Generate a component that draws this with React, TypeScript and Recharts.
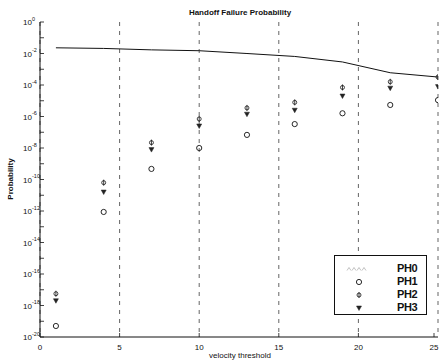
import React from "react";
import { ComposedChart, Scatter, Line, XAxis, YAxis, CartesianGrid, Legend } from "recharts";

// velocity threshold values where each scheme was evaluated
const velocity = [1, 4, 7, 10, 13, 16, 19, 22, 25];
const ph0 = [2.3e-2, 2.1e-2, 1.7e-2, 1.5e-2, 1.0e-2, 6.5e-3, 2.9e-3, 6.0e-4, 3.2e-4];
const ph1 = [5e-20, 8.7e-13, 4.7e-10, 1e-8, 6.8e-8, 3.3e-7, 1.6e-6, 5.4e-6, 1.1e-5];
const ph2 = [5.6e-18, 6.3e-11, 2.2e-8, 7e-7, 3.5e-6, 7.9e-6, 7e-5, 1.6e-4, 3.2e-4];
const ph3 = [2e-18, 1.6e-11, 7.9e-9, 2.5e-7, 1.4e-6, 2.5e-6, 2e-5, 6.3e-5, 7.9e-5];

const seriesNames = ["PH0", "PH1", "PH2", "PH3"];
const xTicks = [0, 5, 10, 15, 20, 25];
const yTicks = [
  1e-20, 1e-19, 1e-18, 1e-17, 1e-16, 1e-15, 1e-14, 1e-13, 1e-12, 1e-11, 1e-10,
  1e-9, 1e-8, 1e-7, 1e-6, 1e-5, 1e-4, 1e-3, 1e-2, 1e-1, 1,
];

const toPoints = (vals: number[]) => velocity.map((x, i) => ({ x, y: vals[i] }));

const INK = "#111";
const FONT = "'Liberation Sans', Arial, sans-serif";
const TL = 4; // inward tick length

function LeftTick(props: any) {
  const { x, y, payload } = props;
  const e = Math.round(Math.log10(payload.value));
  return (
    <g>
      <line x1={x + 8} x2={x + 8 + TL} y1={y} y2={y} stroke={INK} strokeWidth={0.8} />
      {e % 2 === 0 && (
        <g fontFamily={FONT} fill={INK}>
          <text x={x} y={y} dy={3} textAnchor="end" fontSize={8}>10</text>
          <text x={x} y={y} dy={-1.5} textAnchor="start" fontSize={5.5}>{e}</text>
        </g>
      )}
    </g>
  );
}

function RightTick(props: any) {
  const { x, y } = props;
  return <line x1={x} x2={x - TL} y1={y} y2={y} stroke={INK} strokeWidth={0.8} />;
}

function BottomTick(props: any) {
  const { x, y, payload } = props;
  return (
    <g>
      <line x1={x} x2={x} y1={y} y2={y - TL} stroke={INK} strokeWidth={0.8} />
      <text x={x} y={y + 13} textAnchor="middle" fontSize={8} fontFamily={FONT} fill={INK}>
        {payload.value}
      </text>
    </g>
  );
}

function TopTick(props: any) {
  const { x, y } = props;
  return <line x1={x} x2={x} y1={y} y2={y + TL} stroke={INK} strokeWidth={0.8} />;
}

function Ph0Mark({ cx, cy }: any) {
  return <path d={`M${cx - 2},${cy + 1.5}L${cx},${cy - 1.5}L${cx + 2},${cy + 1.5}`} fill="none" stroke="#999" strokeWidth={0.6} />;
}
function Ph1Mark({ cx, cy }: any) {
  return <circle cx={cx} cy={cy} r={2.6} fill="none" stroke={INK} strokeWidth={0.9} />;
}
function Ph2Mark({ cx, cy }: any) {
  return (
    <g fill="none" stroke={INK} strokeWidth={0.8}>
      <circle cx={cx} cy={cy} r={2} />
      <line x1={cx} x2={cx} y1={cy - 3} y2={cy + 3} />
    </g>
  );
}
function Ph3Mark({ cx, cy }: any) {
  return <path d={`M${cx - 2.5},${cy - 2}L${cx + 2.5},${cy - 2}L${cx},${cy + 2.5}Z`} fill="#222" stroke="#222" strokeWidth={0.5} />;
}

const legendMarks = [Ph0Mark, Ph1Mark, Ph2Mark, Ph3Mark];

function renderLegend() {
  return (
    <div
      style={{
        width: 93,
        height: 60,
        border: `1px solid ${INK}`,
        background: "#fff",
        boxSizing: "border-box",
        paddingTop: 6,
        fontFamily: FONT,
      }}
    >
      {seriesNames.map((name, i) => {
        const Mark = legendMarks[i];
        return (
          <div key={name} style={{ display: "flex", alignItems: "center", height: 13 }}>
            <svg width={60} height={12} style={{ display: "block" }}>
              {i === 0 ? (
                [14, 19, 24, 29].map((cx) => <Ph0Mark key={cx} cx={cx} cy={6} />)
              ) : (
                <Mark cx={24} cy={6} />
              )}
            </svg>
            <span style={{ fontSize: 11, fontWeight: "bold", color: INK, letterSpacing: -0.4, marginLeft: 2, lineHeight: "13px" }}>
              {name}
            </span>
          </div>
        );
      })}
    </div>
  );
}

export default function App() {
  return (
    <div style={{ position: "absolute", left: 0, top: 0, width: 442, height: 361, background: "#fff", fontFamily: FONT }}>
      <ComposedChart width={442} height={361} margin={{ top: 22, right: 4, bottom: 0, left: 0 }}>
        <CartesianGrid
          xAxisId="b"
          yAxisId="l"
          horizontal={false}
          stroke="#222"
          strokeWidth={0.7}
          strokeDasharray="4 5"
        />
        <XAxis
          xAxisId="b"
          type="number"
          dataKey="x"
          domain={[0, 25]}
          ticks={xTicks}
          height={24}
          tickSize={0}
          tickMargin={0}
          tickLine={false}
          axisLine={{ stroke: INK, strokeWidth: 1 }}
          tick={(p: any) => <BottomTick {...p} />}
          allowDataOverflow
        />
        <XAxis
          xAxisId="t"
          orientation="top"
          type="number"
          domain={[0, 25]}
          ticks={xTicks}
          height={0}
          tickSize={0}
          tickMargin={0}
          tickLine={false}
          axisLine={{ stroke: INK, strokeWidth: 1 }}
          tick={(p: any) => <TopTick {...p} />}
          allowDataOverflow
        />
        <YAxis
          yAxisId="l"
          type="number"
          scale="log"
          domain={[1e-20, 1]}
          ticks={yTicks}
          width={40}
          tickSize={0}
          tickMargin={8}
          tickLine={false}
          interval={0}
          axisLine={{ stroke: INK, strokeWidth: 1 }}
          tick={(p: any) => <LeftTick {...p} />}
          allowDataOverflow
        />
        <YAxis
          yAxisId="r"
          orientation="right"
          type="number"
          scale="log"
          domain={[1e-20, 1]}
          ticks={yTicks}
          width={0}
          tickSize={0}
          tickMargin={0}
          tickLine={false}
          interval={0}
          axisLine={{ stroke: INK, strokeWidth: 1 }}
          tick={(p: any) => <RightTick {...p} />}
          allowDataOverflow
        />
        <Line
          xAxisId="b"
          yAxisId="l"
          data={toPoints(ph0)}
          dataKey="y"
          name="PH0"
          type="linear"
          stroke={INK}
          strokeWidth={1}
          dot={false}
          isAnimationActive={false}
        />
        <Scatter xAxisId="b" yAxisId="l" data={toPoints(ph1)} dataKey="y" name="PH1" shape={(p: any) => <Ph1Mark cx={p.cx} cy={p.cy} />} isAnimationActive={false} />
        <Scatter xAxisId="b" yAxisId="l" data={toPoints(ph2)} dataKey="y" name="PH2" shape={(p: any) => <Ph2Mark cx={p.cx} cy={p.cy} />} isAnimationActive={false} />
        <Scatter xAxisId="b" yAxisId="l" data={toPoints(ph3)} dataKey="y" name="PH3" shape={(p: any) => <Ph3Mark cx={p.cx} cy={p.cy} />} isAnimationActive={false} />
        <Legend
          layout="vertical"
          align="center"
          verticalAlign="middle"
          content={renderLegend}
          wrapperStyle={{ position: "absolute", left: 334, top: 255, width: 93, height: 60 }}
        />
      </ComposedChart>
      <div
        style={{
          position: "absolute", left: 140, top: 8, width: 200, textAlign: "center",
          fontSize: 8, fontWeight: "bold", lineHeight: "10px", color: INK,
        }}
      >
        Handoff Failure Probability
      </div>
      <div
        style={{
          position: "absolute", left: 140, top: 351, width: 200, textAlign: "center",
          fontSize: 8, lineHeight: "10px", color: INK,
        }}
      >
        velocity threshold
      </div>
      <div
        style={{
          position: "absolute", left: -29, top: 174, width: 80, height: 10, textAlign: "center",
          fontSize: 8, fontWeight: "bold", lineHeight: "10px", color: INK, transform: "rotate(-90deg)",
        }}
      >
        Probability
      </div>
    </div>
  );
}
